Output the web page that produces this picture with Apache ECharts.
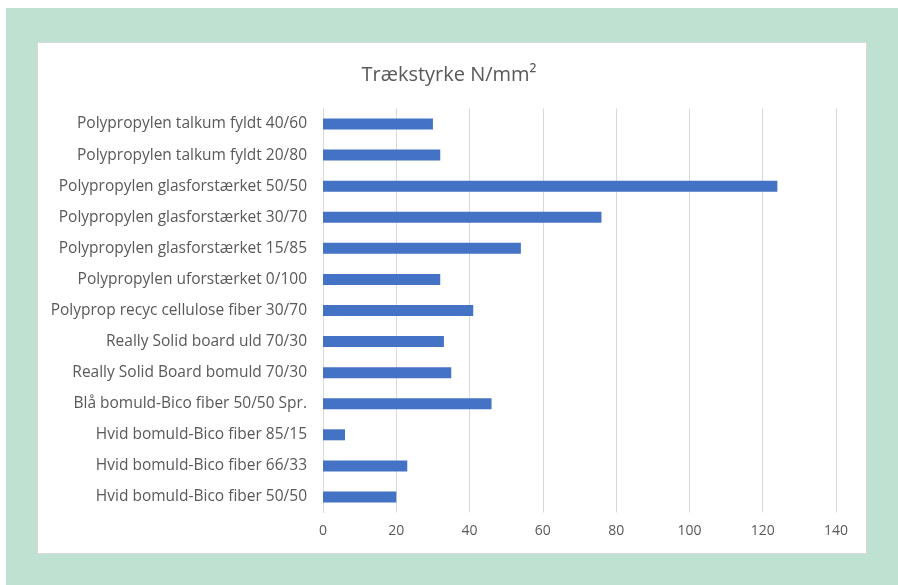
<!DOCTYPE html>
<html>
<head>
<meta charset="utf-8">
<script src="https://cdn.jsdelivr.net/npm/echarts@6/dist/echarts.min.js"></script>
<style>
html,body{margin:0;padding:0;background:#ffffff;}
#chart{width:898px;height:585px;}
</style>
</head>
<body>
<div id="chart"></div>
<script>
const titleText = 'Trækstyrke N/mm²';
const categories = [
  'Polypropylen talkum fyldt 40/60',
  'Polypropylen talkum fyldt 20/80',
  'Polypropylen glasforstærket 50/50',
  'Polypropylen glasforstærket 30/70',
  'Polypropylen glasforstærket 15/85',
  'Polypropylen uforstærket 0/100',
  'Polyprop recyc cellulose fiber 30/70',
  'Really Solid board uld 70/30',
  'Really Solid Board bomuld 70/30',
  'Blå bomuld-Bico fiber 50/50 Spr.',
  'Hvid bomuld-Bico fiber 85/15',
  'Hvid bomuld-Bico fiber 66/33',
  'Hvid bomuld-Bico fiber 50/50'
];
const values = [30, 32, 124, 76, 54, 32, 41, 33, 35, 46, 6, 23, 20];
const xTicks = [0, 20, 40, 60, 80, 100, 120, 140];

const font = '"Open Sans", Lato, sans-serif';
const chart = echarts.init(document.getElementById('chart'), null, {renderer: 'canvas'});
chart.setOption({
  animation: false,
  backgroundColor: '#ffffff',
  graphic: [
    {type: 'rect', z: -10, shape: {x: 6, y: 8, width: 892, height: 577}, style: {fill: '#bfe1d1'}},
    {type: 'rect', z: -9, shape: {x: 37.5, y: 42.5, width: 829, height: 511}, style: {fill: '#ffffff', stroke: '#d9d9d9', lineWidth: 1}}
  ],
  title: {
    text: titleText,
    left: 444,
    textAlign: 'center',
    top: 60,
    textStyle: {fontFamily: font, fontSize: 20, fontWeight: 'normal', color: '#595959'}
  },
  grid: {left: 323, right: 62, top: 108.5, bottom: 72.5, containLabel: false},
  xAxis: {
    type: 'value',
    min: xTicks[0],
    max: xTicks[xTicks.length - 1],
    interval: 20,
    axisLine: {show: false},
    axisTick: {show: false},
    splitLine: {show: true, lineStyle: {color: '#d9d9d9', width: 1}},
    axisLabel: {fontFamily: font, fontSize: 14, color: '#595959', margin: 12}
  },
  yAxis: {
    type: 'category',
    inverse: true,
    data: categories,
    axisLine: {show: true, lineStyle: {color: '#d9d9d9', width: 1}},
    axisTick: {show: false},
    axisLabel: {fontFamily: font, fontSize: 15.5, color: '#595959', margin: 16}
  },
  series: [{
    type: 'bar',
    data: values,
    barWidth: 11,
    itemStyle: {color: '#4472c4'}
  }]
});
</script>
</body>
</html>
